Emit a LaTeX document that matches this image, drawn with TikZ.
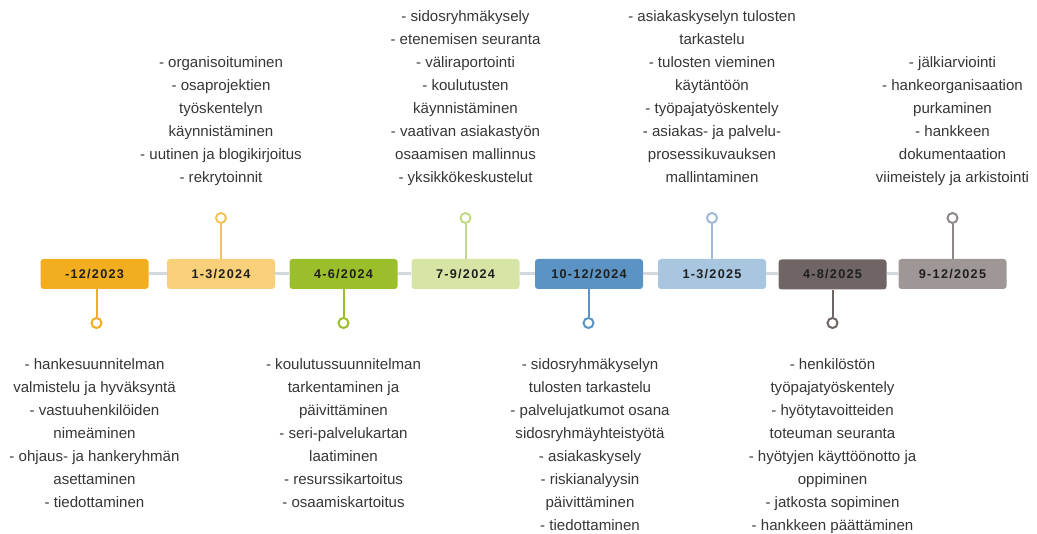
\documentclass[tikz,border=0pt]{standalone}
\usepackage{fontspec}
\setmainfont{Liberation Sans}
\newfontfamily\datefont[LetterSpace=10]{Liberation Sans}
\definecolor{cA}{HTML}{F3AE1F}
\definecolor{cB}{HTML}{F9D07A}
\definecolor{cC}{HTML}{9BBF2B}
\definecolor{cD}{HTML}{D6E5A6}
\definecolor{cE}{HTML}{5B94C4}
\definecolor{cF}{HTML}{A9C6E1}
\definecolor{cG}{HTML}{6E6564}
\definecolor{cH}{HTML}{9E9795}
\definecolor{sB}{HTML}{F4C25C}
\definecolor{sD}{HTML}{C3D986}
\definecolor{sF}{HTML}{9DBBD9}
\definecolor{sH}{HTML}{8E8886}
\definecolor{linegray}{HTML}{D4D7DD}
\definecolor{textgray}{HTML}{363636}
\begin{document}
\begin{tikzpicture}[x=0.75pt,y=-0.75pt,
  datebox/.style={rounded corners=2.25pt, minimum width=81pt, minimum height=22.5pt,
    inner sep=0pt, text=black!88, font=\datefont\bfseries\fontsize{9.5}{11}\selectfont},
  pin/.style={circle, draw, fill=white, line width=1.5pt, minimum size=7.5pt, inner sep=0pt},
  stem/.style={line width=1.5pt},
  link/.style={line width=2.25pt, draw=linegray},
  txt/.style={align=center, inner sep=0pt, anchor=north, text=textgray,
    font=\fontsize{11.3}{17.25}\selectfont}]
\useasboundingbox (0,0) rectangle (1037,534);

% date boxes
\node[datebox, fill=cA] (b1) at (94.5,274) {-12/2023};
\node[datebox, fill=cB] (b2) at (221,274) {1-3/2024};
\node[datebox, fill=cC] (b3) at (343.5,274) {4-6/2024};
\node[datebox, fill=cD] (b4) at (465.5,274) {7-9/2024};
\node[datebox, fill=cE] (b5) at (589,274) {10-12/2024};
\node[datebox, fill=cF] (b6) at (712,274) {1-3/2025};
\node[datebox, fill=cG] (b7) at (832.5,274.5) {4-8/2025};
\node[datebox, fill=cH] (b8) at (952.5,274) {9-12/2025};

% connecting line
\draw[link] (b1.east) -- (b2.west);
\draw[link] (b2.east) -- (b3.west);
\draw[link] (b3.east) -- (b4.west);
\draw[link] (b4.east) -- (b5.west);
\draw[link] (b5.east) -- (b6.west);
\draw[link] (b6.east) -- (b6.east -| b7.west);
\draw[link] (b7.east |- b8.west) -- (b8.west);

% pins
\node[pin, draw=cA] (p1) at (96.5,323) {};
\node[pin, draw=sB] (p2) at (221,218) {};
\node[pin, draw=cC] (p3) at (343.5,323) {};
\node[pin, draw=sD] (p4) at (465.5,218) {};
\node[pin, draw=cE] (p5) at (588.5,323) {};
\node[pin, draw=sF] (p6) at (712,218) {};
\node[pin, draw=cG] (p7) at (832.5,323) {};
\node[pin, draw=sH] (p8) at (952.5,218) {};

\draw[stem, draw=cA] (b1.south -| p1) -- (p1.north);
\draw[stem, draw=sB] (p2.south) -- (b2.north);
\draw[stem, draw=cC] (b3.south) -- (p3.north);
\draw[stem, draw=sD] (p4.south) -- (b4.north);
\draw[stem, draw=cE] (b5.south -| p5) -- (p5.north);
\draw[stem, draw=sF] (p6.south) -- (b6.north);
\draw[stem, draw=cG] (b7.south) -- (p7.north);
\draw[stem, draw=sH] (p8.south) -- (b8.north);

% top texts
\node[txt] (t2) at (221,50.8) {\strut- organisoituminen\\- osaprojektien\\työskentelyn\\käynnistäminen\\- uutinen ja blogikirjoitus\\- rekrytoinnit};
\node[txt] (t4) at (465.5,4.8) {\strut- sidosryhmäkysely\\- etenemisen seuranta\\- väliraportointi\\- koulutusten\\käynnistäminen\\- vaativan asiakastyön\\osaamisen mallinnus\\- yksikkökeskustelut};
\node[txt] (t6) at (712,4.8) {\strut- asiakaskyselyn tulosten\\tarkastelu\\- tulosten vieminen\\käytäntöön\\- työpajatyöskentely\\- asiakas- ja palvelu-\\prosessikuvauksen\\mallintaminen};
\node[txt] (t8) at (952.5,50.8) {\strut- jälkiarviointi\\- hankeorganisaation\\purkaminen\\- hankkeen\\dokumentaation\\viimeistely ja arkistointi};

% bottom texts
\node[txt] (t1) at (94.5,352.8) {\strut- hankesuunnitelman\\valmistelu ja hyväksyntä\\- vastuuhenkilöiden\\nimeäminen\\- ohjaus- ja hankeryhmän\\asettaminen\\- tiedottaminen};
\node[txt] (t3) at (343.5,352.8) {\strut- koulutussuunnitelman\\tarkentaminen ja\\päivittäminen\\- seri-palvelukartan\\laatiminen\\- resurssikartoitus\\- osaamiskartoitus};
\node[txt] (t5) at (590,352.8) {\strut- sidosryhmäkyselyn\\tulosten tarkastelu\\- palvelujatkumot osana\\sidosryhmäyhteistyötä\\- asiakaskysely\\- riskianalyysin\\päivittäminen\\- tiedottaminen};
\node[txt] (t7) at (832.5,352.8) {\strut- henkilöstön\\työpajatyöskentely\\- hyötytavoitteiden\\toteuman seuranta\\- hyötyjen käyttöönotto ja\\oppiminen\\- jatkosta sopiminen\\- hankkeen päättäminen};
\end{tikzpicture}
\end{document}
